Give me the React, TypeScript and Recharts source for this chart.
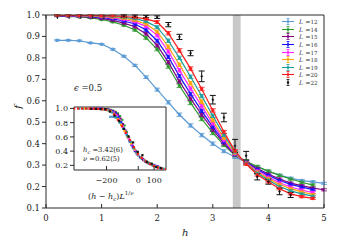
import React from "react";
import {
  LineChart,
  Line,
  XAxis,
  YAxis,
  ErrorBar,
  ReferenceArea,
  Legend,
  ScatterChart,
  Scatter,
} from "recharts";

// field h on the main x axis
const hGrid = [0.2, 0.4, 0.6, 0.8, 1.0, 1.2, 1.4, 1.6, 1.8, 2.0, 2.2, 2.4, 2.6, 2.8, 3.0, 3.2, 3.4, 3.6, 3.8, 4.0, 4.2, 4.4, 4.6, 4.8, 5.0];

// f(h) for each system size L
const fL12 = [0.882, 0.882, 0.88, 0.87, 0.864, 0.84, 0.808, 0.765, 0.71, 0.652, 0.593, 0.535, 0.485, 0.44, 0.4, 0.365, 0.338, 0.313, 0.291, 0.271, 0.253, 0.239, 0.228, 0.222, 0.215];
const fL14 = [0.995, 0.994, 0.991, 0.987, 0.979, 0.968, 0.952, 0.93, 0.893, 0.84, 0.76, 0.67, 0.59, 0.515, 0.45, 0.393, 0.345, 0.318, 0.293, 0.272, 0.252, 0.235, 0.22, 0.207, null];
const fL15 = [0.996, 0.995, 0.993, 0.99, 0.984, 0.975, 0.962, 0.945, 0.912, 0.858, 0.78, 0.69, 0.61, 0.535, 0.465, 0.4, 0.348, 0.314, 0.284, 0.258, 0.235, 0.216, 0.204, 0.193, 0.185];
const fL16 = [0.997, 0.996, 0.995, 0.993, 0.989, 0.982, 0.972, 0.958, 0.93, 0.88, 0.805, 0.715, 0.632, 0.553, 0.478, 0.408, 0.35, 0.312, 0.28, 0.252, 0.228, 0.21, 0.197, 0.186, null];
const fL17 = [0.998, 0.997, 0.996, 0.995, 0.992, 0.987, 0.979, 0.968, 0.947, 0.905, 0.83, 0.742, 0.657, 0.575, 0.493, 0.415, 0.352, 0.31, 0.274, 0.244, 0.218, 0.198, 0.184, 0.172, null];
const fL18 = [0.998, 0.998, 0.997, 0.996, 0.994, 0.99, 0.984, 0.975, 0.958, 0.922, 0.852, 0.768, 0.682, 0.596, 0.508, 0.425, 0.355, 0.309, 0.268, 0.237, 0.21, 0.19, 0.175, 0.163, null];
const fL19 = [0.998, 0.998, 0.998, 0.997, 0.996, 0.993, 0.989, 0.983, 0.97, 0.943, 0.88, 0.8, 0.712, 0.622, 0.53, 0.44, 0.36, 0.307, 0.262, 0.23, 0.2, 0.18, 0.166, 0.155, null];
const fL20 = [0.998, 0.998, 0.998, 0.998, 0.997, 0.996, 0.993, 0.989, 0.982, 0.967, 0.915, 0.835, 0.75, 0.655, 0.555, 0.455, 0.365, 0.305, 0.255, 0.222, 0.19, 0.166, 0.153, 0.145, null];
const fL22 = [null, null, null, null, null, null, 0.995, 0.994, 0.992, 0.99, 0.955, 0.898, 0.822, 0.714, 0.605, 0.522, 0.39, 0.344, 0.246, 0.223, 0.177, 0.161, null, null, null];

// error bars
const errColor = [0.003, 0.003, 0.003, 0.003, 0.003, 0.004, 0.004, 0.005, 0.006, 0.007, 0.008, 0.008, 0.008, 0.008, 0.008, 0.007, 0.007, 0.006, 0.006, 0.005, 0.005, 0.005, 0.005, 0.005, 0.005];
const errL22 = [null, null, null, null, null, null, 0.006, 0.006, 0.006, 0.006, 0.01, 0.012, 0.012, 0.025, 0.02, 0.02, 0.03, 0.02, 0.015, 0.012, 0.015, 0.012, null, null, null];

// ticks
const xTicks = [0, 1, 2, 3, 4, 5];
const yTicks = [0.1, 0.2, 0.3, 0.4, 0.5, 0.6, 0.7, 0.8, 0.9, 1.0];
const insetXTicks = [-200, 0, 100];
const insetYTicks = [0.2, 0.4, 0.6, 0.8, 1.0];

// critical band and fit values
const hcBand = [3.36, 3.5];
const hc = 3.42;
const nu = 0.62;

const FONT = "'DejaVu Serif', serif";
const AXIS = "#2a2a2a";

const series = [
  { L: 12, color: "#5b9bd5", values: fL12 },
  { L: 14, color: "#2f9a2f", values: fL14 },
  { L: 15, color: "#800080", values: fL15 },
  { L: 16, color: "#1515ff", values: fL16 },
  { L: 17, color: "#ff22ff", values: fL17 },
  { L: 18, color: "#ffa500", values: fL18 },
  { L: 19, color: "#1a9e9e", values: fL19 },
  { L: 20, color: "#ff1a1a", values: fL20 },
  { L: 22, color: "#111111", values: fL22 },
];

const rows = hGrid.map((h, i) => {
  const row: any = { h, eC: errColor[i], e22: errL22[i] };
  series.forEach((s) => {
    row[`L${s.L}`] = s.values[i];
  });
  return row;
});

const insetData = series.map((s) => ({
  ...s,
  points: hGrid
    .map((h, i) => ({ x: (h - hc) * Math.pow(s.L, 1 / nu), y: s.values[i] }))
    .filter((p) => p.y != null),
}));

const BottomTick = ({ x, y, payload, size = 8.5, dy = 13 }: any) => (
  <g>
    <line x1={x} y1={y} x2={x} y2={y - 4} stroke={AXIS} />
    <text x={x} y={y + dy} textAnchor="middle" fontFamily={FONT} fontSize={size} fill="#222">
      {String(payload.value).replace("-", "\u2212")}
    </text>
  </g>
);

const LeftTick = ({ x, y, payload, size = 8.5 }: any) => (
  <g>
    <line x1={x} y1={y} x2={x - 4} y2={y} stroke={AXIS} />
    <text x={x - 6} y={y + 3} textAnchor="end" fontFamily={FONT} fontSize={size} fill="#222">
      {Number(payload.value).toFixed(1)}
    </text>
  </g>
);

const TopTick = ({ x, y }: any) => <line x1={x} y1={y} x2={x} y2={y + 4} stroke={AXIS} />;
const RightTick = ({ x, y }: any) => <line x1={x} y1={y} x2={x - 4} y2={y} stroke={AXIS} />;

const LegendBox = () => (
  <div style={{ fontFamily: FONT, fontSize: 6.3, color: "#333" }}>
    {series.map((s) => (
      <div key={s.L} style={{ display: "flex", alignItems: "center", height: 7.6 }}>
        <svg width={12} height={7}>
          {s.L !== 22 && <line x1={0} y1={3.5} x2={12} y2={3.5} stroke={s.color} strokeWidth={1.1} />}
          <line x1={6} y1={0.5} x2={6} y2={6.5} stroke={s.color} strokeWidth={0.8} />
          <line x1={4.5} y1={0.5} x2={7.5} y2={0.5} stroke={s.color} strokeWidth={0.8} />
          <line x1={4.5} y1={6.5} x2={7.5} y2={6.5} stroke={s.color} strokeWidth={0.8} />
          <circle cx={6} cy={3.5} r={1.2} fill={s.color} />
        </svg>
        <span style={{ marginLeft: 5, whiteSpace: "nowrap" }}>
          <i>L</i> =<span style={{ fontSize: 5.6 }}>{s.L}</span>
        </span>
      </div>
    ))}
  </div>
);

const txt = (extra: React.CSSProperties): React.CSSProperties => ({
  position: "absolute",
  fontFamily: FONT,
  color: "#222",
  whiteSpace: "nowrap",
  lineHeight: 1,
  ...extra,
});

export default function App() {
  return (
    <div style={{ position: "absolute", left: 0, top: 0, width: 338, height: 250, background: "#fff" }}>
      <LineChart width={338} height={250} data={rows} margin={{ top: 14, right: 13, left: 16, bottom: 22 }}>
        <ReferenceArea x1={hcBand[0]} x2={hcBand[1]} y1={0.1} y2={1.0} fill="#c8c8c8" fillOpacity={1} stroke="none" />
        <XAxis
          dataKey="h"
          type="number"
          domain={[0, 5]}
          ticks={xTicks}
          interval={0}
          height={20}
          tickSize={0}
          tickMargin={0}
          stroke={AXIS}
          tick={<BottomTick />}
          allowDataOverflow
        />
        <XAxis
          xAxisId="top"
          orientation="top"
          type="number"
          domain={[0, 5]}
          ticks={xTicks}
          interval={0}
          height={1}
          tickSize={0}
          tickMargin={0}
          stroke={AXIS}
          tick={<TopTick />}
        />
        <YAxis
          type="number"
          domain={[0.1, 1.0]}
          ticks={yTicks}
          interval={0}
          width={30}
          tickSize={0}
          tickMargin={0}
          stroke={AXIS}
          tick={<LeftTick />}
          allowDataOverflow
        />
        <YAxis
          yAxisId="right"
          orientation="right"
          type="number"
          domain={[0.1, 1.0]}
          ticks={yTicks}
          interval={0}
          width={1}
          tickSize={0}
          tickMargin={0}
          stroke={AXIS}
          tick={<RightTick />}
        />
        {series.map((s) => (
          <Line
            key={s.L}
            dataKey={`L${s.L}`}
            stroke={s.L === 22 ? "none" : s.color}
            strokeWidth={1.2}
            dot={{ r: s.L === 22 ? 0.9 : 1.5, fill: s.color, stroke: s.color, strokeWidth: 0.5 }}
            activeDot={false}
            isAnimationActive={false}
          >
            <ErrorBar dataKey={s.L === 22 ? "e22" : "eC"} width={3} stroke={s.color} strokeWidth={s.L === 22 ? 1 : 0.8} direction="y" />
          </Line>
        ))}
        <Legend
          layout="vertical"
          align="center"
          verticalAlign="middle"
          content={<LegendBox />}
          wrapperStyle={{ left: 282, top: 18, width: 56 }}
        />
      </LineChart>

      <div style={{ position: "absolute", left: 54, top: 100 }}>
        <ScatterChart width={120} height={100} margin={{ top: 6, right: 7, left: 19, bottom: 29 }}>
          <XAxis
            dataKey="x"
            type="number"
            domain={[-405, 175]}
            ticks={insetXTicks}
            interval={0}
            height={1}
            tickSize={0}
            tickMargin={0}
            stroke={AXIS}
            tick={<BottomTick size={8} dy={13} />}
            allowDataOverflow
          />
          <XAxis
            xAxisId="top"
            orientation="top"
            type="number"
            domain={[-405, 175]}
            ticks={insetXTicks}
            interval={0}
            height={1}
            tickSize={0}
            tickMargin={0}
            stroke={AXIS}
            tick={<TopTick />}
          />
          <YAxis
            dataKey="y"
            type="number"
            domain={[0.135, 1.02]}
            ticks={insetYTicks}
            interval={0}
            width={1}
            tickSize={0}
            tickMargin={0}
            stroke={AXIS}
            tick={<LeftTick size={8} />}
            allowDataOverflow
          />
          <YAxis
            yAxisId="right"
            orientation="right"
            type="number"
            domain={[0.135, 1.02]}
            ticks={insetYTicks}
            interval={0}
            width={1}
            tickSize={0}
            tickMargin={0}
            stroke={AXIS}
            tick={<RightTick />}
          />
          {insetData.map((s) => (
            <Scatter
              key={s.L}
              data={s.points}
              fill={s.color}
              isAnimationActive={false}
              shape={(p: any) => <rect x={p.cx - 1.1} y={p.cy - 1.1} width={2.2} height={2.2} fill={s.color} />}
            />
          ))}
        </ScatterChart>
      </div>

      <div style={txt({ left: 74, top: 84, fontSize: 8.5 })}>
        <i>ϵ</i> =0.5
      </div>
      <div style={txt({ left: 16, top: 102, fontSize: 10, transform: "rotate(-90deg)" })}>
        <i>f</i>
      </div>
      <div style={txt({ left: 182, top: 228, fontSize: 10 })}>
        <i>h</i>
      </div>
      <div style={txt({ left: 83, top: 147, fontSize: 6.8 })}>
        <i>h</i>
        <sub style={{ fontSize: 5 }}>
          <i>c</i>
        </sub>{" "}
        =3.42(6)
      </div>
      <div style={txt({ left: 83, top: 156, fontSize: 6.8 })}>
        <i>ν</i> =0.62(5)
      </div>
      <div style={txt({ left: 88, top: 191, fontSize: 8 })}>
        (<i>h</i> − <i>h</i>
        <sub style={{ fontSize: 5.5 }}>
          <i>c</i>
        </sub>
        )<i>L</i>
        <sup style={{ fontSize: 5.5 }}>
          1/<i>ν</i>
        </sup>
      </div>
    </div>
  );
}
